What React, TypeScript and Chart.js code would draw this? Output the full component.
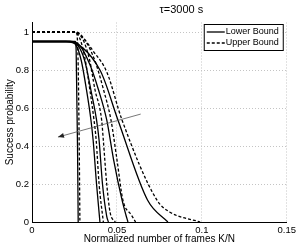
import React, { useEffect, useRef } from "react";
import { Chart, registerables } from "chart.js";
Chart.register(...registerables);

const TITLE = "τ=3000 s";
const X_TITLE = "Normalized number of frames K/N";
const Y_TITLE = "Success probability";
const X_TICKS = [0, 0.05, 0.1, 0.15];
const Y_TICKS = [0, 0.2, 0.4, 0.6, 0.8, 1];
const LEGEND_LABELS = ["Lower Bound", "Upper Bound"];

// Lower bound curves (solid)
const lowerA = [[0, 0.95], [0.0255, 0.95], [0.026, 0.9], [0.0268, 0.4], [0.0272, 0]];
const lowerB = [[0, 0.95], [0.022, 0.95], [0.026, 0.93], [0.029, 0.85], [0.032, 0.7], [0.0347, 0.537], [0.036, 0.43], [0.038, 0.2], [0.040, 0]];
const lowerC = [[0, 0.95], [0.022, 0.95], [0.027, 0.93], [0.031, 0.85], [0.035, 0.68], [0.038, 0.537], [0.0395, 0.43], [0.0415, 0.2], [0.044, 0.03], [0.045, 0]];
const lowerD = [[0, 0.95], [0.023, 0.95], [0.028, 0.93], [0.034, 0.83], [0.039, 0.7], [0.044, 0.537], [0.048, 0.33], [0.053, 0.116], [0.0553, 0.037], [0.0565, 0]];
const lowerE = [[0, 0.95], [0.02, 0.95], [0.04, 0.8], [0.0506, 0.537], [0.068, 0.116], [0.08, 0]];

// Upper bound curves (dashed)
const upperA = [[0, 1], [0.026, 1], [0.027, 0.9], [0.0278, 0.4], [0.0282, 0]];
const upperB = [[0, 1], [0.024, 1], [0.028, 0.97], [0.031, 0.87], [0.034, 0.7], [0.0365, 0.537], [0.0378, 0.43], [0.0395, 0.2], [0.042, 0]];
const upperC = [[0, 1], [0.025, 1], [0.03, 0.96], [0.034, 0.85], [0.037, 0.7], [0.041, 0.537], [0.042, 0.43], [0.044, 0.2], [0.046, 0.05], [0.049, 0]];
const upperD = [[0, 1], [0.026, 1], [0.031, 0.96], [0.037, 0.85], [0.042, 0.7], [0.0465, 0.537], [0.05, 0.33], [0.0535, 0.116], [0.0585, 0.037], [0.061, 0]];
const upperE = [[0, 1], [0.025, 1], [0.03, 0.97], [0.036, 0.9], [0.044, 0.79], [0.053, 0.537], [0.0735, 0.116], [0.081, 0.053], [0.099, 0]];

const LOWER = [lowerA, lowerB, lowerC, lowerD, lowerE];
const UPPER = [upperA, upperB, upperC, upperD, upperE];

// Arrow (from, to) in data coordinates
const ARROW_FROM = [0.064, 0.568];
const ARROW_TO = [0.0153, 0.447];

const FONT = "'Liberation Sans', Arial, sans-serif";

export default function App() {
  const ref = useRef<HTMLCanvasElement | null>(null);
  useEffect(() => {
    if (!ref.current) return;
    const toPts = (a: number[][]) => a.map(([x, y]) => ({ x, y }));
    const datasets: any[] = [];
    LOWER.forEach((c, i) =>
      datasets.push({
        label: LEGEND_LABELS[0] + i,
        data: toPts(c),
        borderColor: "#000",
        borderWidth: 1.3,
        pointRadius: 0,
        cubicInterpolationMode: "monotone",
        fill: false,
      })
    );
    UPPER.forEach((c, i) =>
      datasets.push({
        label: LEGEND_LABELS[1] + i,
        data: toPts(c),
        borderColor: "#000",
        borderWidth: 1.3,
        borderDash: [3, 2],
        pointRadius: 0,
        cubicInterpolationMode: "monotone",
        fill: false,
      })
    );

    const overlay = {
      id: "overlay",
      afterDatasetsDraw(chart: any) {
        const { ctx, chartArea, scales } = chart;
        const xs = scales.x, ys = scales.y;
        // arrow
        const x1 = xs.getPixelForValue(ARROW_FROM[0]);
        const y1 = ys.getPixelForValue(ARROW_FROM[1]);
        const x2 = xs.getPixelForValue(ARROW_TO[0]);
        const y2 = ys.getPixelForValue(ARROW_TO[1]);
        ctx.save();
        ctx.strokeStyle = "#555";
        ctx.fillStyle = "#222";
        ctx.lineWidth = 0.8;
        ctx.setLineDash([]);
        ctx.beginPath();
        ctx.moveTo(x1, y1);
        ctx.lineTo(x2, y2);
        ctx.stroke();
        const ang = Math.atan2(y2 - y1, x2 - x1);
        const L = 6, W = 2.5;
        ctx.beginPath();
        ctx.moveTo(x2, y2);
        ctx.lineTo(x2 - L * Math.cos(ang) + W * Math.sin(ang), y2 - L * Math.sin(ang) - W * Math.cos(ang));
        ctx.lineTo(x2 - L * Math.cos(ang) - W * Math.sin(ang), y2 - L * Math.sin(ang) + W * Math.cos(ang));
        ctx.closePath();
        ctx.fill();
        // legend
        const bx = chartArea.right - 83, by = chartArea.top + 1.5, bw = 79, bh = 26;
        ctx.fillStyle = "#fff";
        ctx.fillRect(bx, by, bw, bh);
        ctx.strokeStyle = "#000";
        ctx.lineWidth = 1;
        ctx.strokeRect(bx + 0.5, by + 0.5, bw, bh);
        ctx.font = `9px ${FONT}`;
        ctx.textBaseline = "middle";
        ctx.textAlign = "left";
        LEGEND_LABELS.forEach((lab, i) => {
          const yy = by + 8 + i * 11;
          ctx.lineWidth = 1.3;
          ctx.setLineDash(i === 0 ? [] : [3, 2]);
          ctx.beginPath();
          ctx.moveTo(bx + 3, yy);
          ctx.lineTo(bx + 21, yy);
          ctx.stroke();
          ctx.setLineDash([]);
          ctx.fillStyle = "#000";
          ctx.fillText(lab, bx + 22, yy);
        });
        // title
        ctx.font = `11px ${FONT}`;
        ctx.textAlign = "center";
        ctx.fillText(TITLE, (chartArea.left + chartArea.right) / 2 + 22, 10);
        ctx.restore();
      },
    };

    const fmt = (v: any) => String(Number(Number(v).toFixed(2)));

    const chart = new Chart(ref.current, {
      type: "line",
      data: { datasets },
      options: {
        animation: false,
        responsive: false,
        layout: { padding: { top: 22.5, right: 13, left: 0, bottom: 0 } },
        plugins: { legend: { display: false }, title: { display: false }, tooltip: { enabled: false } },
        scales: {
          x: {
            type: "linear",
            min: 0,
            max: 0.15,
            afterBuildTicks: (s: any) => {
              s.ticks = X_TICKS.map((v) => ({ value: v }));
            },
            afterFit: (s: any) => {
              s.height = 26;
            },
            ticks: { color: "#000", font: { size: 9.5, family: FONT, lineHeight: 1 }, padding: 4, maxRotation: 0, callback: fmt },
            grid: { color: "#c4c4c4", lineWidth: 1, drawTicks: false },
            border: { color: "#000", width: 1, dash: [1, 2] },
            title: { display: true, text: X_TITLE, color: "#000", font: { size: 10, family: FONT, lineHeight: 1 }, padding: { top: 0, bottom: 4 } },
          },
          y: {
            type: "linear",
            min: 0,
            max: 1.05,
            afterBuildTicks: (s: any) => {
              s.ticks = Y_TICKS.map((v) => ({ value: v }));
            },
            afterFit: (s: any) => {
              s.width = 32;
            },
            ticks: { color: "#000", font: { size: 9.5, family: FONT }, padding: 3, callback: fmt },
            grid: { color: "#c4c4c4", lineWidth: 1, drawTicks: false },
            border: { color: "#000", width: 1, dash: [1, 2] },
            title: { display: true, text: Y_TITLE, color: "#000", font: { size: 10, family: FONT }, padding: { top: 4, bottom: 0 } },
          },
        },
      },
      plugins: [overlay],
    });
    return () => chart.destroy();
  }, []);
  return (
    <div style={{ position: "fixed", left: 0, top: 0, width: 300, height: 248, background: "#fff" }}>
      <canvas ref={ref} width={300} height={248} style={{ width: 300, height: 248, display: "block" }} />
    </div>
  );
}
